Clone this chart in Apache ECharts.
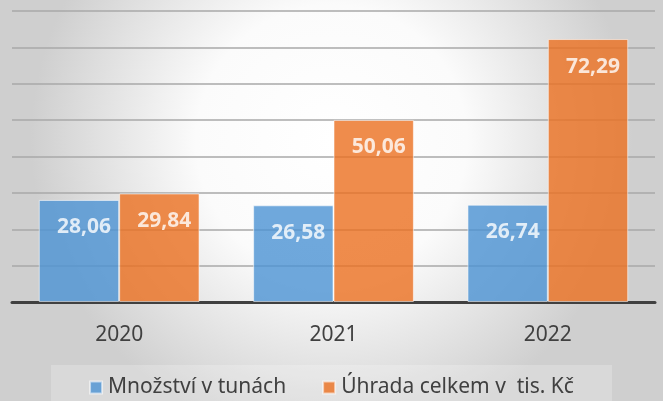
<!DOCTYPE html>
<html><head><meta charset="utf-8">
<script src="https://cdn.jsdelivr.net/npm/echarts@6/dist/echarts.min.js"></script>
<style>html,body{margin:0;padding:0;}#c{width:663px;height:401px;}</style>
</head><body><div id="c"></div>
<script>
const categories = ['2020', '2021', '2022'];
const seriesNames = ['Množství v tunách', 'Úhrada celkem v  tis. Kč'];
const mnozstvi = [28.06, 26.58, 26.74];
const uhrada = [29.84, 50.06, 72.29];

const chart = echarts.init(document.getElementById('c'), null, {renderer: 'canvas'});
const fmt = p => p.value.toFixed(2).replace('.', ',');
const labelStyle = {
  show: true, position: 'insideTop', distance: 17, offset: [5, 0], formatter: fmt,
  color: '#ffffff', fontFamily: 'Noto Sans', fontWeight: 'bold', fontSize: 21
};
chart.setOption({
  backgroundColor: {
    type: 'radial', x: 0.5, y: 0.35, r: 0.75,
    colorStops: [{offset: 0, color: '#ffffff'}, {offset: 0.45, color: '#fbfbfb'}, {offset: 1, color: '#cfcfcf'}]
  },
  animation: false,
  textStyle: {fontFamily: 'Noto Sans'},
  grid: {left: 12, right: 8, top: 11, bottom: 99, containLabel: false},
  legend: {
    top: 365, left: 'center', itemWidth: 12, itemHeight: 12, itemGap: 36,
    icon: 'rect', padding: [12, 38, 14, 38], backgroundColor: 'rgba(255,255,255,0.22)',
    textStyle: {color: '#404040', fontSize: 21, fontFamily: 'Noto Sans', padding: [0, 0, 0, 1]},
    data: seriesNames
  },
  xAxis: {
    type: 'category', data: categories,
    axisLine: {lineStyle: {color: '#404040', width: 3}},
    axisTick: {show: false},
    axisLabel: {color: '#404040', fontSize: 21, margin: 23, fontFamily: 'Noto Sans'}
  },
  yAxis: {
    type: 'value', min: 0, max: 80, interval: 10,
    axisLabel: {show: false}, axisLine: {show: false}, axisTick: {show: false},
    splitLine: {lineStyle: {color: '#a8a8a8', width: 1.5}}
  },
  series: [
    {name: seriesNames[0], type: 'bar', data: mnozstvi, barGap: '0%', barCategoryGap: '25%',
     itemStyle: {color: '#4b92d3', opacity: 0.8, borderColor: 'rgba(255,255,255,0.7)', borderWidth: 1},
     label: labelStyle},
    {name: seriesNames[1], type: 'bar', data: uhrada,
     itemStyle: {color: '#eb6f1f', opacity: 0.8, borderColor: 'rgba(255,255,255,0.7)', borderWidth: 1},
     label: labelStyle}
  ]
});
</script></body></html>
